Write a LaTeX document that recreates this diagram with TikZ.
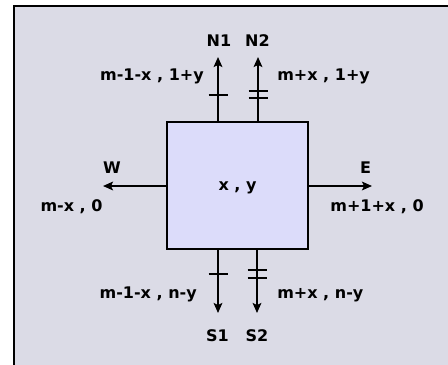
\documentclass[tikz,border=0pt]{standalone}
\usepackage{fontspec}
\setmainfont{DejaVu Sans}
\usetikzlibrary{arrows.meta}
\definecolor{bgc}{RGB}{219,219,230}
\definecolor{boxc}{RGB}{220,220,250}
\begin{document}
\begin{tikzpicture}[x=0.75pt,y=-0.75pt,
  font=\bfseries\fontsize{12}{14}\selectfont,
  arr/.style={line width=1.7pt,-{Stealth[length=7.5pt,width=6.5pt,inset=1.5pt]}},
  tickln/.style={line width=1.7pt},
  lbl/.style={inner sep=0pt, anchor=base}]
\useasboundingbox (0,0) rectangle (448,364);
\begin{scope}
\clip (0,0) rectangle (448,364);
\draw[line width=2.2pt, fill=bgc] (14,6) rectangle (470,390);
\end{scope}
\node[draw, line width=1.7pt, fill=boxc, minimum width=105.75pt, minimum height=95.25pt, inner sep=0pt] (box) at (237.5,185.5) {};
\node[lbl] (xy) at (237.5,190) {x , y};
% arrow end coordinates
\coordinate (n1) at (218,57);
\coordinate (n2) at (258,57);
\coordinate (s1) at (218,313);
\coordinate (s2) at (257,313);
\coordinate (w) at (103,186);
\coordinate (e) at (372,186);
\draw[arr] (n1 |- box.north) -- (n1);
\draw[arr] (n2 |- box.north) -- (n2);
\draw[arr] (s1 |- box.south) -- (s1);
\draw[arr] (s2 |- box.south) -- (s2);
\draw[arr] (box.west |- w) -- (w);
\draw[arr] (box.east |- e) -- (e);
% ticks
\coordinate (tn1) at (218,95);
\coordinate (tn2a) at (258,91);
\coordinate (tn2b) at (258,98);
\coordinate (ts1) at (218,274);
\coordinate (ts2a) at (257,270);
\coordinate (ts2b) at (257,278);
\foreach \t in {tn1,tn2a,tn2b,ts1,ts2a,ts2b}
  \draw[tickln] (\t) +(-9.5,0) -- +(9.5,0);
% labels
\node[lbl] (ln1) at (219,46) {N1};
\node[lbl] (ln2) at (257.5,46) {N2};
\node[lbl, anchor=base east] (cn1) at (204,80.5) {m-1-x , 1+y};
\node[lbl, anchor=base west] (cn2) at (277,80.5) {m+x , 1+y};
\node[lbl] (lw) at (112,173) {W};
\node[lbl] (cw) at (71.5,211) {m-x , 0};
\node[lbl] (le) at (365.5,173) {E};
\node[lbl] (ce) at (377,211) {m+1+x , 0};
\node[lbl, anchor=base east] (cs1) at (197,298) {m-1-x , n-y};
\node[lbl, anchor=base west] (cs2) at (277,298) {m+x , n-y};
\node[lbl] (ls1) at (217.5,341) {S1};
\node[lbl] (ls2) at (257,341) {S2};
\end{tikzpicture}
\end{document}
